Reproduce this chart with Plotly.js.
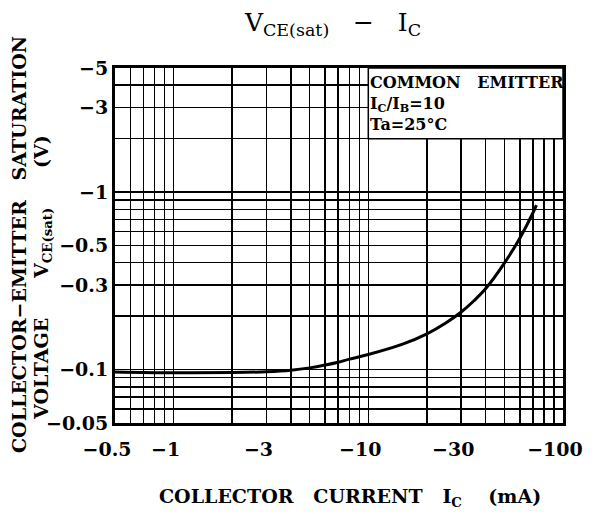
<!DOCTYPE html>
<html>
<head>
<meta charset="utf-8">
<script src="https://cdn.plot.ly/plotly-3.0.1.min.js"></script>
<style>
html,body{margin:0;padding:0;background:#fff;}
#chart{width:595px;height:514px;}
</style>
</head>
<body>
<div id="chart"></div>
<script>
// Collector current I_C (mA) and V_CE(sat) (V) (PNP: negative values)
const icMA   = [-0.5, -1, -2, -3, -4, -5, -6, -7, -8, -10, -15, -20, -25, -30, -35, -40, -50, -60, -70, -73];
const vceSat = [-0.097, -0.096, -0.0962, -0.0972, -0.0991, -0.1022, -0.106, -0.110, -0.1145, -0.1215, -0.139, -0.159, -0.183, -0.211, -0.245, -0.285, -0.398, -0.550, -0.762, -0.845];

// Axis labels and grid values
const xLabelVals = [-0.5, -1, -3, -10, -30, -100];
const xLabelText = ["−0.5", "−1", "−3", "−10", "−30", "−100"];
const xGridVals  = [-0.6,-0.7,-0.8,-0.9,-2,-4,-5,-6,-7,-8,-9,-20,-40,-50,-60,-70,-80,-90];
const yLabelVals = [-0.05, -0.1, -0.3, -0.5, -1, -3, -5];
const yLabelText = ["−0.05", "−0.1", "−0.3", "−0.5", "−1", "−3", "−5"];
const yGridVals  = [-0.06,-0.07,-0.08,-0.09,-0.2,-0.4,-0.6,-0.7,-0.8,-0.9,-2,-4];

const serif = "DejaVu Serif, Liberation Serif, serif";
const tickFont = {family: serif, size: 19, color: "#000", weight: "bold"};

const trace = {
  x: icMA.map(Math.abs),
  y: vceSat.map(Math.abs),
  type: "scatter",
  mode: "lines",
  line: {color: "#000", width: 3, shape: "spline", smoothing: 1},
  hoverinfo: "skip",
  showlegend: false
};

const L = 115, R = 563, T = 68, B = 423;
function px(xp) { return (xp - L) / (R - L); }
function py(yp) { return (B - yp) / (B - T); }

const gridStyle = {showgrid: true, gridcolor: "#000", gridwidth: 1.5};

const layout = {
  width: 595, height: 514,
  margin: {l: L, r: 595 - R, t: T, b: 514 - B, pad: 0},
  paper_bgcolor: "#fff", plot_bgcolor: "#fff",
  showlegend: false,
  title: {
    text: "V<sub>CE(sat)</sub>   −   I<sub>C</sub>",
    font: {family: serif, size: 25, color: "#000"},
    xref: "paper", x: px(333), xanchor: "center",
    yref: "container", y: 1 - 13/514, yanchor: "top"
  },
  xaxis: Object.assign({
    type: "log",
    range: [Math.log10(0.5), Math.log10(100)],
    tickmode: "array",
    tickvals: xLabelVals.map(Math.abs),
    ticktext: xLabelText,
    ticks: "",
    tickfont: tickFont,
    ticklabelshift: -8,
    ticklabelstandoff: 7,
    minor: Object.assign({tickmode: "array", tickvals: xGridVals.map(Math.abs), ticks: ""}, gridStyle),
    showline: true, linecolor: "#000", linewidth: 3, mirror: true,
    zeroline: false, fixedrange: true
  }, gridStyle),
  yaxis: Object.assign({
    type: "log",
    range: [Math.log10(0.05), Math.log10(5)],
    tickmode: "array",
    tickvals: yLabelVals.map(Math.abs),
    ticktext: yLabelText,
    ticks: "",
    tickfont: tickFont,
    minor: Object.assign({tickmode: "array", tickvals: yGridVals.map(Math.abs), ticks: ""}, gridStyle),
    showline: true, linecolor: "#000", linewidth: 3, mirror: true,
    zeroline: false, fixedrange: true
  }, gridStyle),
  shapes: [{
    type: "rect", xref: "x", yref: "y",
    x0: 10, x1: 100, y0: 2, y1: 5,
    fillcolor: "#fff", line: {color: "#000", width: 1.5},
    layer: "between"
  }],
  annotations: [
    {
      text: "COMMON   EMITTER<br>I<sub>C</sub>/I<sub>B</sub>=10<br>Ta=25°C",
      xref: "paper", yref: "paper", x: px(368), y: py(71),
      xanchor: "left", yanchor: "top", align: "left", showarrow: false,
      font: {family: serif, size: 16, color: "#000", weight: "bold"}
    },
    {
      text: "COLLECTOR−EMITTER   SATURATION",
      xref: "paper", yref: "paper", x: px(19), y: py(245),
      xanchor: "center", yanchor: "middle", textangle: -90, showarrow: false,
      font: {family: serif, size: 19, color: "#000", weight: "bold"}
    },
    {
      text: "VOLTAGE      V<sub>CE(sat)</sub>      (V)",
      xref: "paper", yref: "paper", x: px(42), y: py(278),
      xanchor: "center", yanchor: "middle", textangle: -90, showarrow: false,
      font: {family: serif, size: 19, color: "#000", weight: "bold"}
    },
    {
      text: "COLLECTOR   CURRENT   I<sub>C</sub>    (mA)",
      xref: "paper", yref: "paper", x: px(350), y: py(497),
      xanchor: "center", yanchor: "middle", showarrow: false,
      font: {family: serif, size: 19, color: "#000", weight: "bold"}
    }
  ]
};

Plotly.newPlot("chart", [trace], layout, {displayModeBar: false, staticPlot: true});
</script>
</body>
</html>
